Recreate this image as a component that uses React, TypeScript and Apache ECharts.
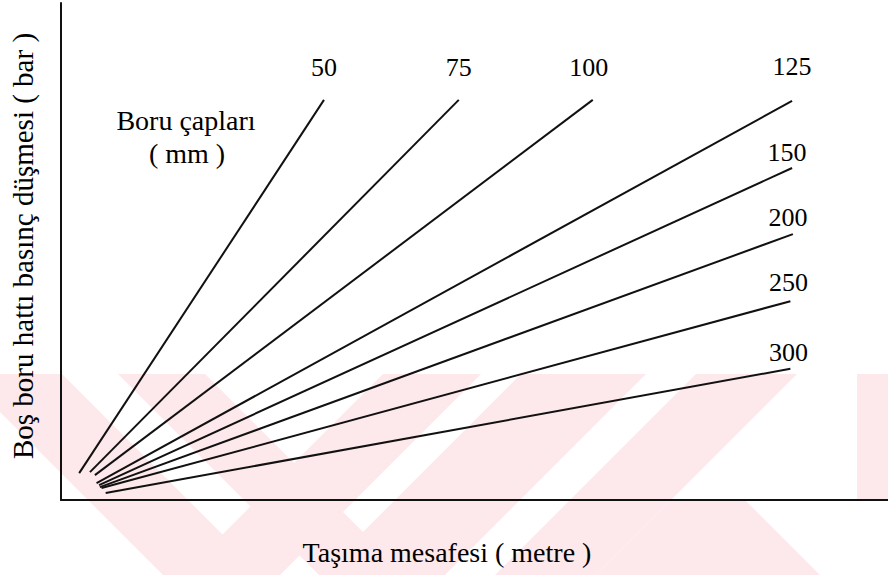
import React, { useEffect, useRef } from "react";
import * as echarts from "echarts";

// Pipe diameters (mm) – one line per diameter
const diameters = ["50", "75", "100", "125", "150", "200", "250", "300"];
// Line start points (near origin), arbitrary 0–100 axis units
const startX = [2.2, 3.5, 4.1, 4.3, 4.6, 4.7, 4.9, 5.4];
const startY = [5.4, 5.6, 5.0, 3.4, 3.0, 2.6, 2.4, 1.4];
// Line end points
const endX = [31.8, 48.1, 64.3, 88.4, 88.4, 88.5, 88.2, 88.2];
const endY = [80.5, 80.5, 80.5, 80.3, 66.8, 53.5, 40.0, 26.4];

const FONT = "'Liberation Serif', 'DejaVu Serif', serif";
const INK = "#111111";
const PINK = "#fde8eb";

// label offsets (px) from each line's end point
const labelOffsets: [number, number][] = [
  [0, -32], [0, -32], [-4, -32], [0, -34],
  [-5, -16], [-5, -17], [-2, -19], [-2, -16],
];

// faint background watermark bands (decoration)
const y0 = 374, y1 = 575;
const backBand = (t1: number, t2: number) => [
  [y0 + t1, y0], [y0 + t2, y0], [y1 + t2, y1], [y1 + t1, y1],
];
const fwdBand = (s1: number, s2: number) => [
  [s1 - y0, y0], [s2 - y0, y0], [s2 - y1, y1], [s1 - y1, y1],
];
const watermark = [
  backBand(-412, -312),
  backBand(-256, -169),
  fwdBand(757, 855),
  fwdBand(895, 1020),
  fwdBand(1070, 1171),
  [[670, 501], [746, 501], [820, 575], [596, 575]],
  [[857, 374], [888, 374], [888, 501], [857, 501]],
];

export default function App() {
  const ref = useRef<HTMLDivElement>(null);
  useEffect(() => {
    if (!ref.current) return;
    const chart = echarts.init(ref.current, null, { renderer: "svg" });
    const series = diameters.map((d, i) => ({
      type: "line",
      name: d,
      symbol: "circle",
      symbolSize: 1,
      showSymbol: true,
      itemStyle: { color: "rgba(0,0,0,0)" },
      lineStyle: { color: INK, width: 2 },
      z: 5,
      data: [
        { value: [startX[i], startY[i]] },
        {
          value: [endX[i], endY[i]],
          label: {
            show: true,
            formatter: d,
            position: "inside",
            offset: labelOffsets[i],
            color: "#000",
            fontFamily: FONT,
            fontSize: 26,
            align: "center",
            verticalAlign: "middle",
          },
        },
      ],
    }));
    chart.setOption({
      animation: false,
      backgroundColor: "#ffffff",
      grid: { left: 59, right: 0, top: 3, bottom: 75, containLabel: false },
      xAxis: {
        type: "value",
        min: 0,
        max: 100,
        z: 4,
        name: "Taşıma mesafesi ( metre )",
        nameLocation: "middle",
        nameGap: 38,
        nameTextStyle: {
          fontFamily: FONT,
          fontSize: 28,
          color: "#000",
          padding: [0, 55, 0, 0],
        },
        axisLine: { show: true, lineStyle: { color: INK, width: 2 } },
        axisTick: { show: false },
        axisLabel: { show: false },
        splitLine: { show: false },
      },
      yAxis: {
        type: "value",
        min: 0,
        max: 100,
        z: 4,
        name: "Boş boru hattı basınç düşmesi ( bar )",
        nameLocation: "middle",
        nameGap: 24,
        nameTextStyle: {
          fontFamily: FONT,
          fontSize: 29,
          color: "#000",
          padding: [0, 0, 0, 11],
        },
        axisLine: { show: true, lineStyle: { color: INK, width: 2 } },
        axisTick: { show: false },
        axisLabel: { show: false },
        splitLine: { show: false },
      },
      graphic: [
        ...watermark.map((pts) => ({
          type: "polygon",
          silent: true,
          z: -10,
          shape: { points: pts },
          style: { fill: PINK },
        })),
        {
          type: "text",
          x: 186,
          y: 120,
          z: 10,
          style: {
            text: "Boru çapları",
            fontFamily: FONT,
            fontSize: 28,
            fill: "#000",
            align: "center",
            verticalAlign: "middle",
          },
        },
        {
          type: "text",
          x: 187,
          y: 153,
          z: 10,
          style: {
            text: "( mm )",
            fontFamily: FONT,
            fontSize: 28,
            fill: "#000",
            align: "center",
            verticalAlign: "middle",
          },
        },
      ],
      series,
    });
    return () => chart.dispose();
  }, []);
  return (
    <div
      ref={ref}
      style={{ position: "fixed", left: 0, top: 0, width: 888, height: 575 }}
    />
  );
}
